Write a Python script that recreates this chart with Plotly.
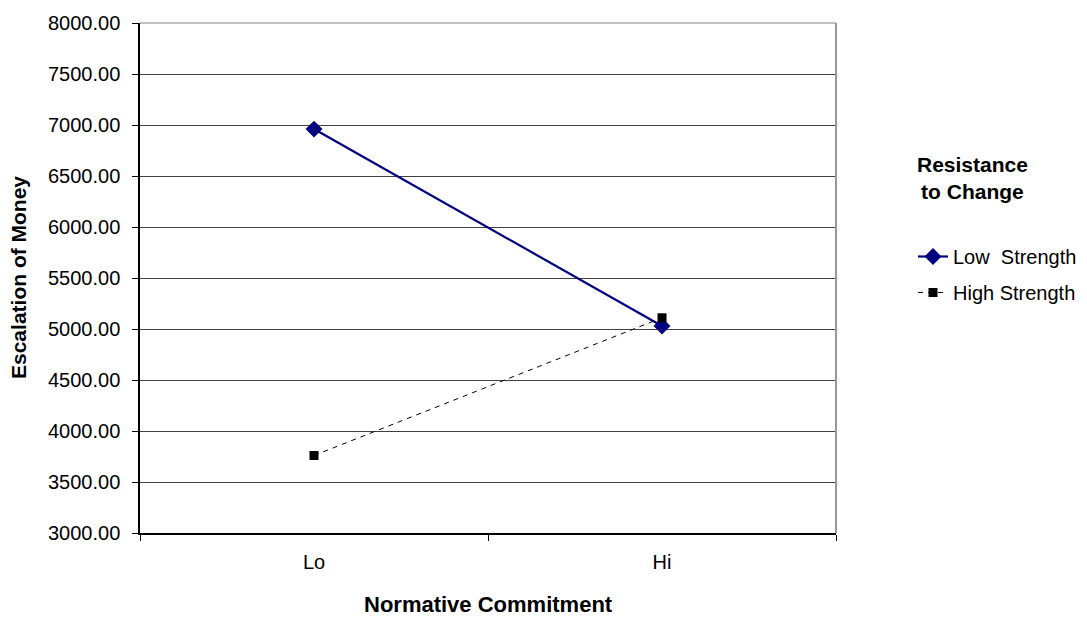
import plotly.graph_objects as go

categories = ["Lo", "Hi"]
low_strength = [6960, 5030]
high_strength = [3760, 5110]
y_ticks = [3000, 3500, 4000, 4500, 5000, 5500, 6000, 6500, 7000, 7500, 8000]

FONT = "Liberation Sans, Arial, sans-serif"
W, H = 1087, 619
L, R, T, B = 140, 251, 20, 86
pw = W - L - R
ph = H - T - B

def px_x(x):
    return (x - L) / pw

def px_y(y):
    return (H - B - y) / ph

fig = go.Figure()
fig.add_trace(go.Scatter(
    x=categories, y=low_strength, name="Low  Strength", mode="lines+markers",
    line=dict(color="#000080", width=2.2),
    marker=dict(symbol="diamond", size=13, color="#000080"),
    legendgroup="a",
))
fig.add_trace(go.Scatter(
    x=categories, y=high_strength, name="High Strength", mode="lines+markers",
    line=dict(color="#000000", width=1, dash="5px,5px"),
    marker=dict(symbol="square", size=9, color="#000000"),
    legendgroup="b",
))

fig.update_layout(
    width=W, height=H,
    margin=dict(l=L, r=R, t=T, b=B),
    paper_bgcolor="white", plot_bgcolor="white",
    font=dict(family=FONT, size=20, color="black"),
    showlegend=True,
    legend=dict(
        xref="container", yref="container",
        x=913 / W, y=1 - 237 / H, xanchor="left", yanchor="top",
        font=dict(size=20), tracegroupgap=7,
        bgcolor="rgba(0,0,0,0)",
    ),
    xaxis=dict(
        type="category", range=[-0.5, 1.5], tickson="boundaries",
        ticks="outside", ticklen=6, tickcolor="black",
        showline=True, linecolor="black", linewidth=1.5,
        showgrid=False, ticklabelstandoff=10, zeroline=False,
    ),
    yaxis=dict(
        range=[3000, 8000], tickvals=y_ticks, tickformat=".2f",
        ticks="outside", ticklen=6, tickcolor="black",
        showline=True, linecolor="black", linewidth=1.5,
        showgrid=True, gridcolor="#404040", gridwidth=1,
        zeroline=False, ticklabelstandoff=8,
    ),
    annotations=[
        dict(text="<b>Escalation of Money</b>", xref="paper", yref="paper",
             x=px_x(18), y=0.5, textangle=-90, showarrow=False,
             xanchor="center", yanchor="middle", font=dict(size=21)),
        dict(text="<b>Normative Commitment</b>", xref="paper", yref="paper",
             x=0.5, y=px_y(605), showarrow=False,
             xanchor="center", yanchor="middle", font=dict(size=22)),
        dict(text="<b>Resistance<br>to Change</b>", xref="paper", yref="paper",
             x=px_x(972), y=px_y(176), showarrow=False,
             xanchor="center", yanchor="middle", font=dict(size=21)),
    ],
    shapes=[
        dict(type="line", xref="paper", yref="paper", x0=1, x1=1, y0=0, y1=1,
             line=dict(color="#999999", width=2)),
        dict(type="line", xref="paper", yref="paper", x0=0, x1=1, y0=1, y1=1,
             line=dict(color="#808080", width=1)),
    ],
)

fig.write_html("out.html")
